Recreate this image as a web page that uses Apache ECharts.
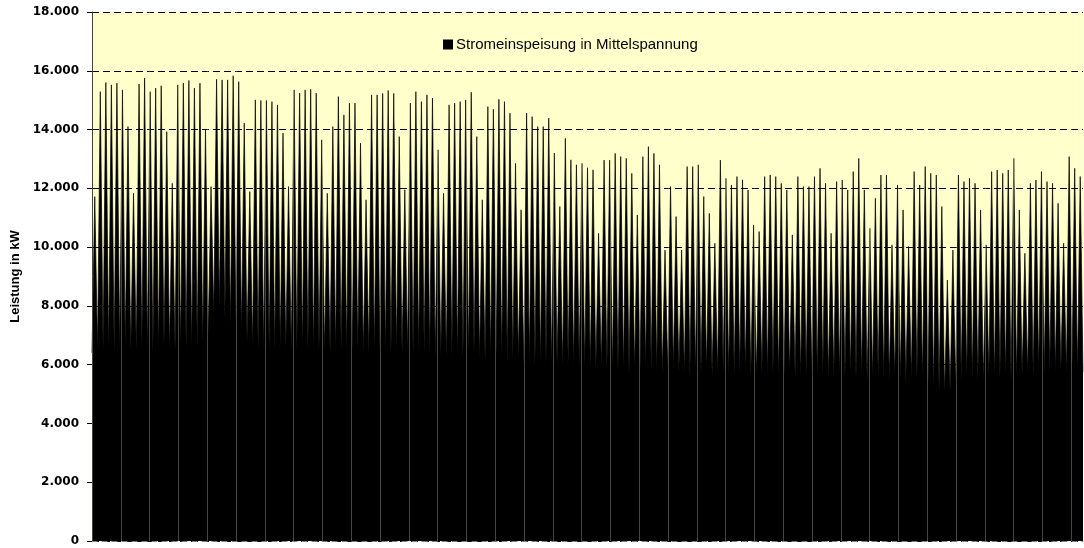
<!DOCTYPE html>
<html><head><meta charset="utf-8">
<script src="https://cdn.jsdelivr.net/npm/echarts@6/dist/echarts.min.js"></script>
<style>html,body{margin:0;padding:0;background:#fff}#c{width:1084px;height:548px}</style>
</head><body><div id="c"></div>
<script>
// Daily values (day 0 = first Sunday)
const seriesName = 'Stromeinspeisung in Mittelspannung';
const yTicks = [0, 2000, 4000, 6000, 8000, 10000, 12000, 14000, 16000, 18000];
// daily peak load (kW)
const dayPeaks = [
11720,15290,15600,15520,15580,15350,14100,
11830,15550,15750,15290,15410,15490,13930,
12170,15520,15580,15670,15410,15580,13990,
12060,15710,15690,15690,15830,15630,14220,
11890,15010,14990,14990,14950,14840,13880,
12060,15350,15240,15350,15370,15240,13650,
11830,14100,15120,14500,14900,14900,13540,
11610,15180,15180,15230,15330,15230,13760,
11950,14900,15290,14950,15180,15070,13310,
11830,14840,14900,14950,15010,15270,13760,
11610,14780,14690,15030,14950,14560,12850,
11270,14560,14440,14100,14100,14390,13200,
11380,13700,12970,12800,12850,12700,12630,
10470,12960,12960,13190,13080,13020,12510,
11095,13080,13420,13190,12800,9900,12060,
11040,9900,12740,12740,12800,11720,11150,
10130,12960,12340,12115,12400,12290,11945,
10755,10530,12400,12455,12400,12170,11945,
10415,12400,12060,12060,12400,12680,12170,
10470,12230,12285,11945,12570,13020,11945,
10640,11660,12455,12455,10075,12115,11265,
10020,12570,12115,12740,12510,12455,11380,
8880,9900,12455,12230,12340,12170,11265,
10075,12570,12625,12510,12625,13020,11265,
9790,12170,12285,12570,12230,12170,11490,
10130,13080,12680,12400
];
// nightly minimum load (kW)
const dayMins = [
6400,6500,6550,6500,6450,6500,6600,6450,6500,6550,6500,6450,6500,6600,6500,6450,6500,6550,6500,6600,6700,
7000,7700,7900,7600,7300,7450,7100,6800,
6600,6550,6500,6500,6450,6550,6500,6450,6500,6550,6500,6400,6500,6450,6400,6450,6500,6400,6450,6500,6400,6350,6400,6450,6400,6350,6500,6400,6450,6350,6400,6400,
6300,6250,6300,6200,6300,6250,6200,6300,6400,6200,6150,6200,6300,6200,6100,6150,6200,6000,6050,5900,6000,6100,5950,6000,5900,6050,5950,6000,
5900,5850,5800,5900,5800,5750,5850,5800,5700,5800,5900,5850,5800,5750,5700,5800,5850,5750,5700,5650,5750,5700,5800,5650,5700,5750,5650,5600,5700,5750,5650,5600,5700,5650,5700,5600,5650,5700,5600,5550,5650,5700,5600,5650,5550,5600,
5600,5550,5650,5500,5600,5450,5550,5600,5500,5450,5550,5500,5400,5500,5550,5450,5300,5200,5100,5000,5100,5300,5450,5500,5550,5500,5450,5600,5500,5550,5600,5500,5550,5650,5700,5600,5750,5700,5800,5750,5800,5700,5800,5750
];

const nDays = dayPeaks.length;
const pts = [];
for (let d = 0; d < nDays; d++) {
  pts.push([d, dayMins[d]]);
  pts.push([d + 0.5, dayPeaks[d]]);
}
pts.push([nDays, dayMins[nDays - 1]]);

const fmt = v => String(v).replace(/\B(?=(\d{3})+(?!\d))/g, '.');
const font = 'Liberation Sans, Arial, sans-serif';

const chart = echarts.init(document.getElementById('c'), null, {renderer: 'canvas'});
chart.setOption({
  animation: false,
  backgroundColor: '#ffffff',
  grid: {left: 92, right: 1, top: 12, bottom: 7, show: true, backgroundColor: '#FFFFCC', borderWidth: 0},
  legend: {
    data: [seriesName], left: 443, top: 37, padding: 0, icon: 'rect', itemWidth: 10, itemHeight: 10,
    textStyle: {fontFamily: font, fontSize: 15, color: '#000', padding: [0, 0, 0, -2]}
  },
  xAxis: [{
    type: 'value', min: 0, max: nDays,
    axisLine: {show: true, onZero: false, lineStyle: {color: '#808080', width: 1, type: [5, 5]}},
    axisTick: {show: false}, axisLabel: {show: false}, splitLine: {show: false}
  }, {
    type: 'value', min: 0, max: 34.41, interval: 1, position: 'bottom', z: 5,
    axisLine: {show: false}, axisTick: {show: false}, axisLabel: {show: false},
    splitLine: {show: true, lineStyle: {color: 'rgba(255,255,204,0.28)', width: 1}}
  }],
  yAxis: {
    type: 'value', min: yTicks[0], max: yTicks[yTicks.length - 1], interval: 2000,
    name: 'Leistung in kW', nameLocation: 'middle', nameGap: 68,
    nameTextStyle: {fontFamily: font, fontSize: 13, fontWeight: 'bold', color: '#000'},
    axisLine: {show: true, lineStyle: {color: '#000', width: 1}},
    axisTick: {show: true, length: 5, lineStyle: {color: '#000'}},
    axisLabel: {formatter: fmt, fontFamily: 'DejaVu Sans', fontSize: 12, fontWeight: 'bold', color: '#000', margin: 13},
    splitLine: {show: true, lineStyle: {color: '#000', width: 1, type: [7, 4]}}
  },
  series: [{
    name: seriesName, type: 'line', xAxisIndex: 0, data: pts,
    symbol: 'none', sampling: 'none',
    itemStyle: {color: '#000'},
    lineStyle: {color: '#000', width: 0.7},
    areaStyle: {color: '#000', opacity: 1},
    z: 2
  }]
});
</script></body></html>
